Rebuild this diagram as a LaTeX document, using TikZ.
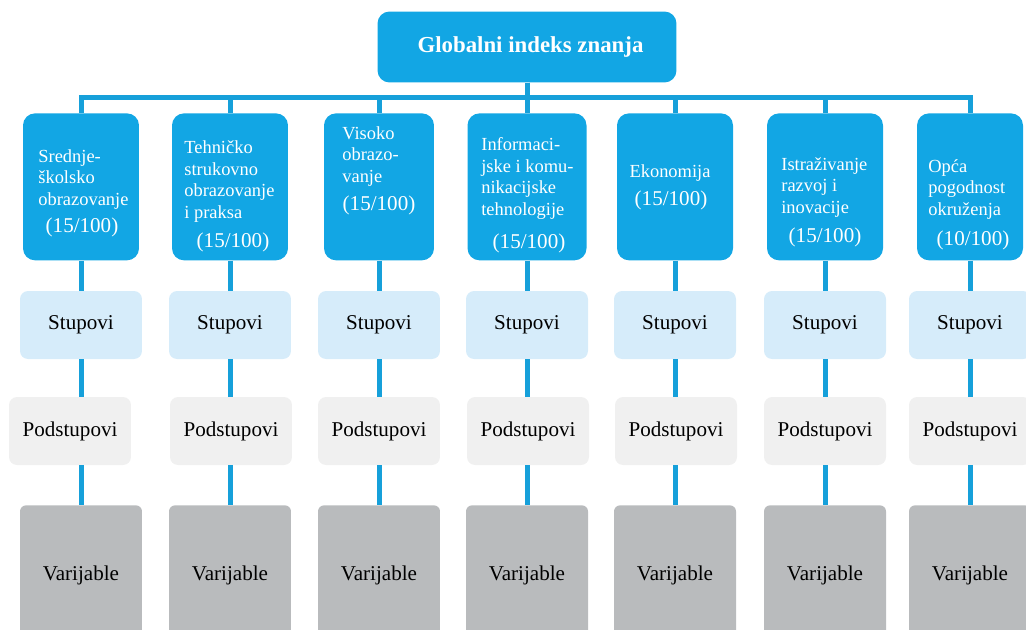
\documentclass[tikz,border=0pt]{standalone}
\usepackage{fontspec}
\setmainfont{Liberation Serif}
\usetikzlibrary{calc}

\definecolor{gkiBlue}{RGB}{18,166,228}
\definecolor{gkiLine}{RGB}{22,160,218}
\definecolor{gkiPale}{RGB}{214,236,250}
\definecolor{gkiLight}{RGB}{240,240,240}
\definecolor{gkiGrey}{RGB}{185,187,189}

\begin{document}
\begin{tikzpicture}[
  x=0.02cm, y=-0.02cm,
  conn/.style={draw=gkiLine, line width=0.1cm},
  topBox/.style={fill=gkiBlue, rounded corners=0.24cm, minimum width=5.98cm, minimum height=1.42cm, text=white, font=\fontsize{13}{15}\selectfont\bfseries},
  mainBox/.style={fill=gkiBlue, rounded corners=0.24cm, minimum width=2.32cm, minimum height=2.94cm, anchor=north, inner sep=0pt},
  mainText/.style={text=white, font=\fontsize{10.5}{12.2}\selectfont, align=left, anchor=base west, inner sep=0pt},
  scoreText/.style={text=white, font=\fontsize{12}{14}\selectfont, anchor=base, inner sep=0pt},
  stupBox/.style={fill=gkiPale, rounded corners=0.16cm, minimum width=2.44cm, minimum height=1.36cm, font=\fontsize{12}{14}\selectfont},
  podBox/.style={fill=gkiLight, rounded corners=0.16cm, minimum width=2.44cm, minimum height=1.36cm, font=\fontsize{12}{14}\selectfont},
  varBox/.style={fill=gkiGrey, rounded corners=0.12cm, minimum width=2.44cm, minimum height=2.8cm, anchor=north, font=\fontsize{12}{14}\selectfont}
  ]
  \useasboundingbox (0,0) rectangle (1026,629);

  % vrh
  \node[topBox] (top) at (527,47) {\hspace{0.14cm}Globalni indeks znanja};

  % stupovi indeksa
  \node[mainBox] (b1) at (81,113) {};
  \node[mainBox] (b2) at (230,113) {};
  \node[mainBox, minimum width=2.2cm] (b3) at (379,113) {};
  \node[mainBox, minimum width=2.38cm] (b4) at (527,113) {};
  \node[mainBox] (b5) at (675,113) {};
  \node[mainBox] (b6) at (825,113) {};
  \node[mainBox, minimum width=2.12cm] (b7) at (970,113) {};

  % tekst (bazna linija zadnjeg retka)
  \node[mainText] (t1) at (38,205) {Srednje-\\školsko\\obrazovanje};
  \node[scoreText] (s1t) at (82,232) {(15/100)};
  \node[mainText] (t2) at (184,218) {Tehničko\\strukovno\\obrazovanje\\i praksa};
  \node[scoreText] (s2t) at (233,247) {(15/100)};
  \node[mainText] (t3) at (342,182) {Visoko\\obrazo-\\vanje};
  \node[scoreText] (s3t) at (379,210) {(15/100)};
  \node[mainText] (t4) at (481,215) {Informaci-\\jske i komu-\\nikacijske\\tehnologije};
  \node[scoreText] (s4t) at (529,248) {(15/100)};
  \node[mainText, anchor=base] (t5) at (670,177) {Ekonomija};
  \node[scoreText] (s5t) at (671,205) {(15/100)};
  \node[mainText] (t6) at (781,213) {Istraživanje\\razvoj i\\inovacije};
  \node[scoreText] (s6t) at (825,242) {(15/100)};
  \node[mainText] (t7) at (928,215) {Opća\\pogodnost\\okruženja};
  \node[scoreText] (s7t) at (973,245) {(10/100)};

  \foreach \i in {1,...,7}
    \draw[conn] (top.south) -- ++(0,15) -| (b\i.north);

  % niže razine
  \foreach \i/\x/\px in {1/81/70, 2/230/231, 3/379/379, 4/527/528, 5/675/676, 6/825/825, 7/970/970} {
    \node[stupBox] (s\i) at (\x,325) {Stupovi};
    \node[podBox] (p\i) at (\px,431) {Podstupovi};
    \node[varBox] (v\i) at (\x,505) {Varijable};
    \draw[conn] (b\i.south) -- (s\i.north);
    \draw[conn] (s\i.south) -- (s\i.south |- p\i.north);
    \draw[conn] (s\i.south |- p\i.south) -- (v\i.north);
  }
\end{tikzpicture}
\end{document}
